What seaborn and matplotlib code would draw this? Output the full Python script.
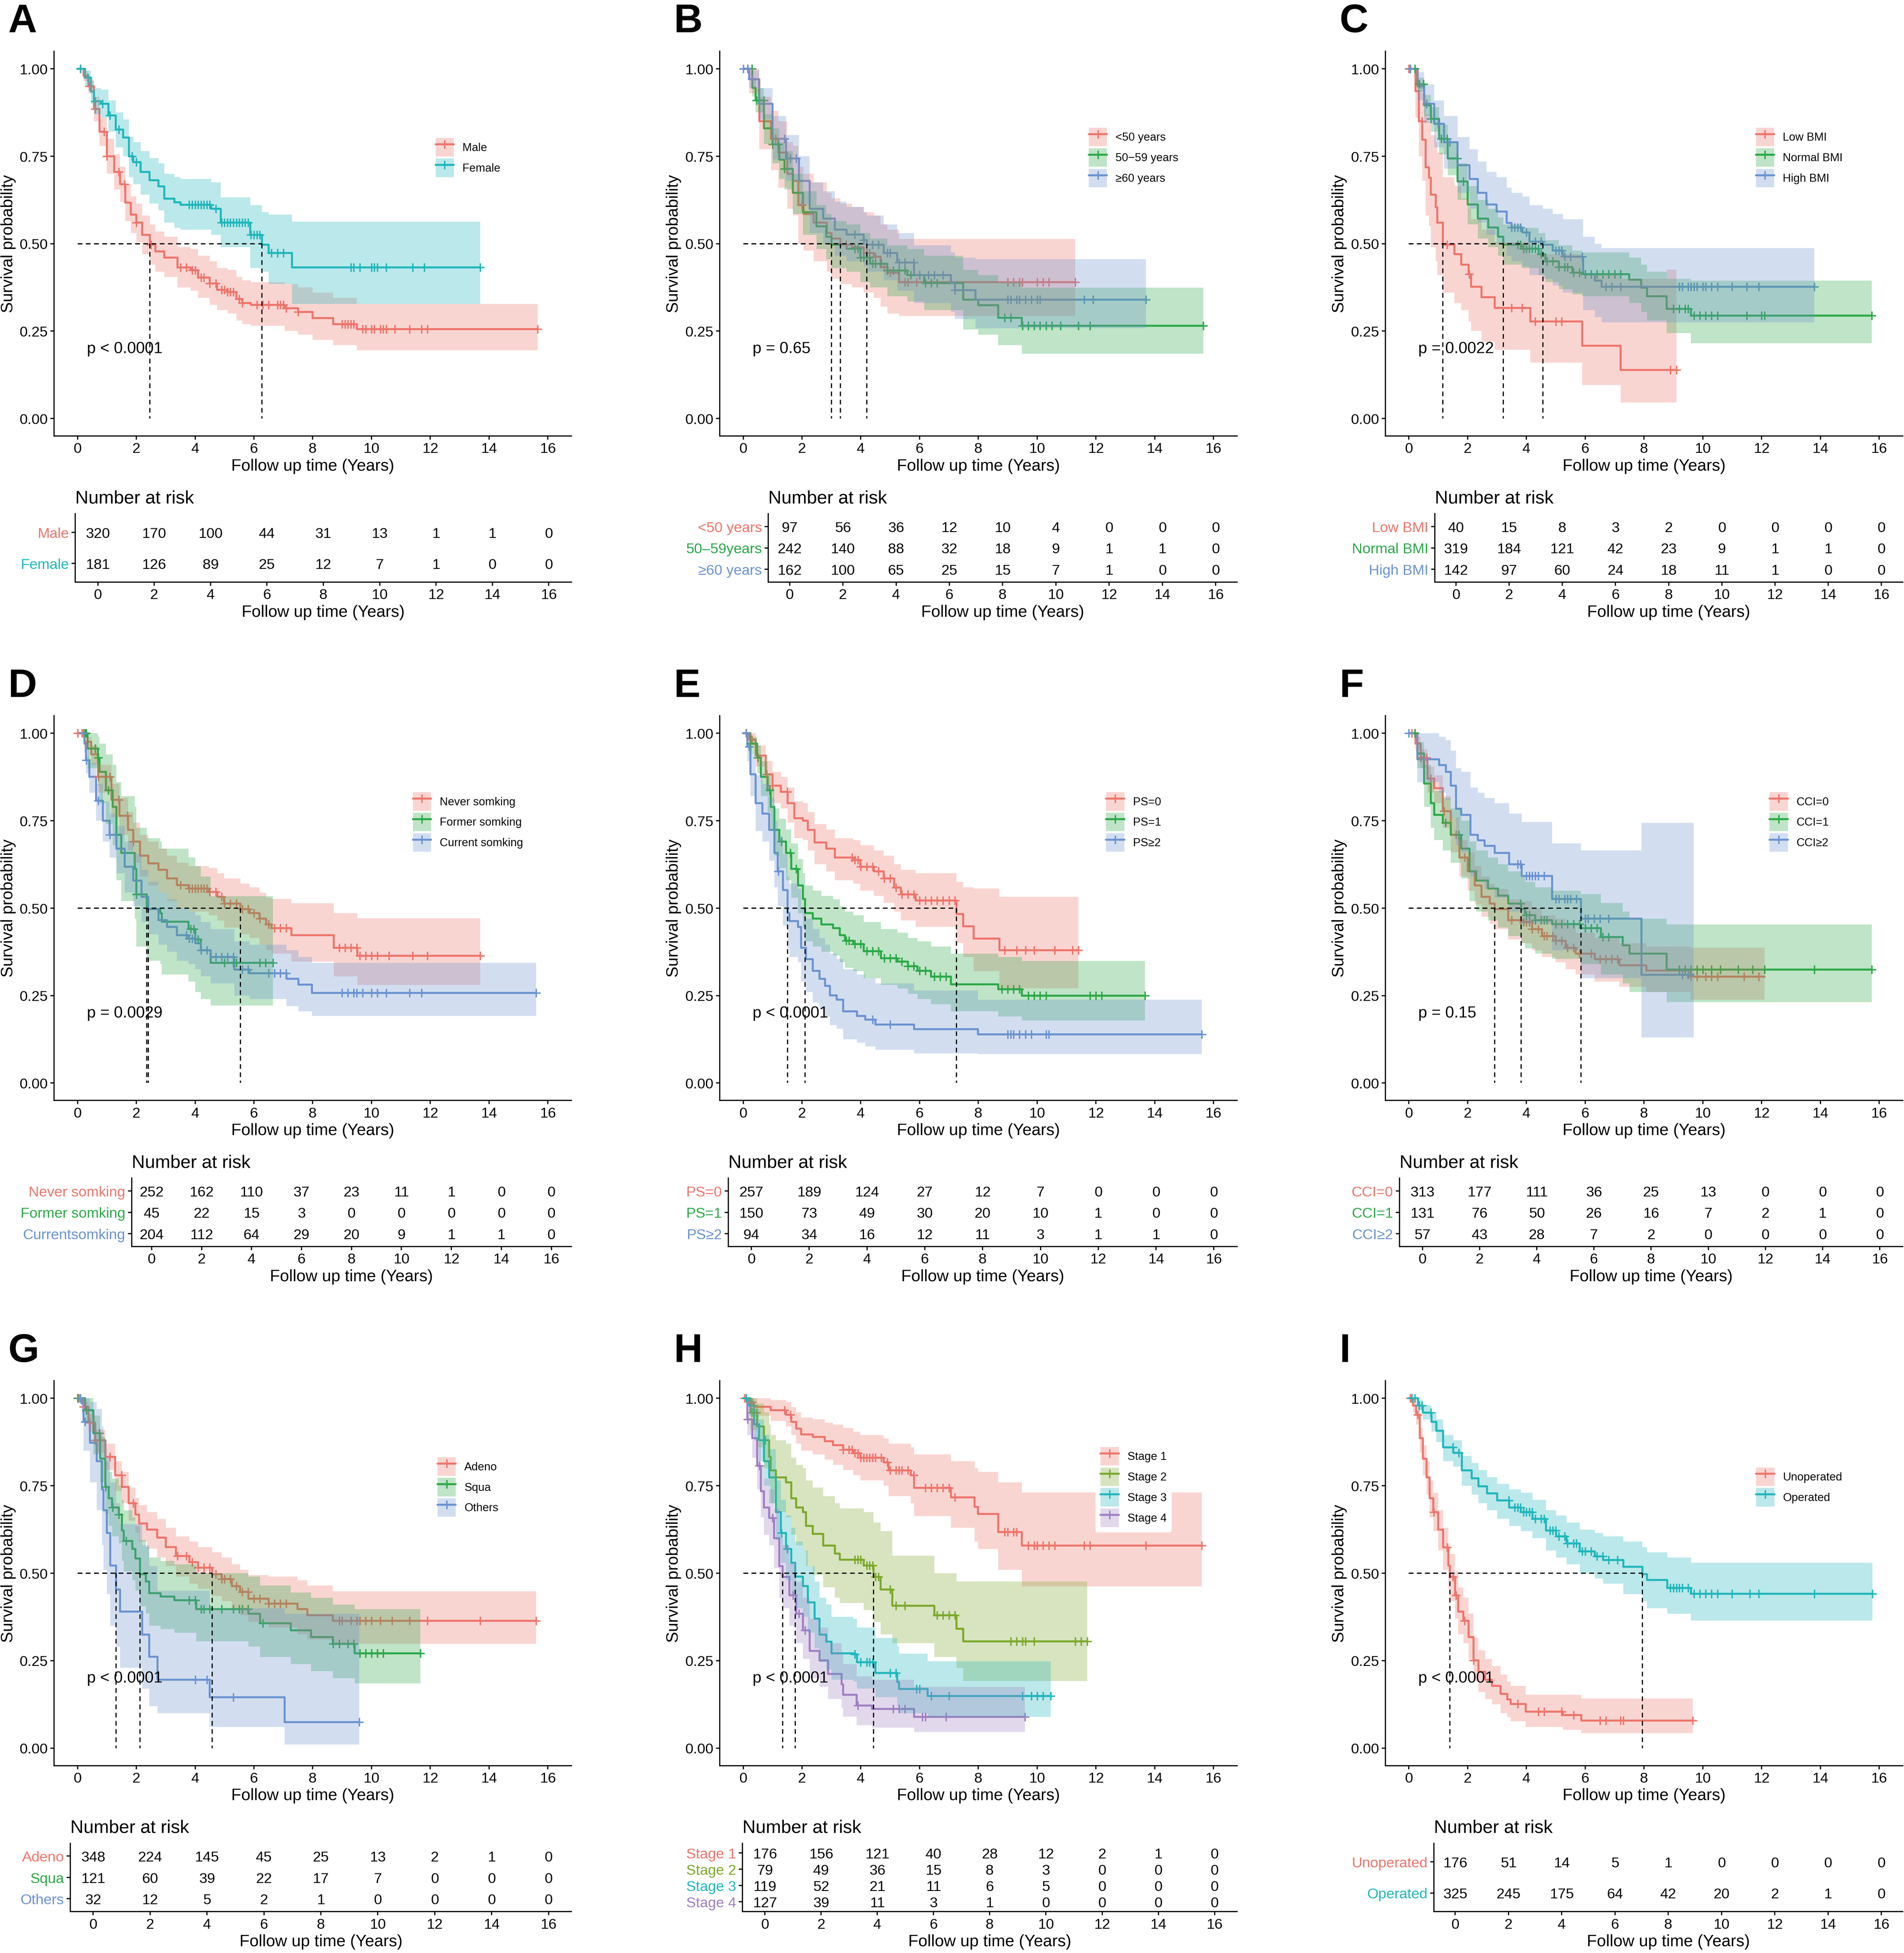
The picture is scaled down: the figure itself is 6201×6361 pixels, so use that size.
import numpy as np
import pandas as pd
import matplotlib
matplotlib.use("Agg")
import matplotlib.pyplot as plt
import seaborn as sns
from matplotlib.patches import Patch
from matplotlib.lines import Line2D
from matplotlib.legend_handler import HandlerTuple

# ---------------- colours ----------------
RED = "#EE746A"
TEAL = "#1FB6BB"
GREEN = "#2BA847"
BLUE = "#6A92D0"
OLIVE = "#7CA82B"
PURPLE = "#A07EC2"

TIMES = [0, 2, 4, 6, 8, 10, 12, 14, 16]

# ---------------- data: knots (time, surv, lower, upper) and censor times ----------------
# Panel A
A_male = [(0,1,1,1),(0.2,.98,.965,.995),(0.375,.95,.93,.97),(0.56,.885,.85,.92),(0.75,.82,.78,.86),
          (1.0,.75,.70,.80),(1.25,.705,.655,.755),(1.45,.67,.62,.72),(1.62,.617,.565,.67),(1.81,.583,.53,.635),
          (2.0,.56,.505,.615),(2.2,.525,.47,.58),(2.46,.497,.44,.555),(2.65,.478,.42,.535),(2.95,.46,.405,.52),
          (3.4,.432,.375,.49),(3.85,.424,.365,.485),(4.1,.403,.345,.465),(4.5,.386,.325,.45),(4.75,.368,.31,.43),
          (5.1,.362,.30,.425),(5.4,.342,.28,.405),(5.6,.33,.27,.395),(5.9,.325,.265,.39),(7.05,.315,.25,.385),
          (7.5,.305,.24,.375),(8.0,.287,.225,.36),(8.7,.27,.21,.345),(9.5,.256,.195,.328),(15.65,.256,.195,.328)]
A_male_c = [0.1,0.4,0.6,0.9,1.0,1.4,1.6,2.0,2.5,3.5,3.7,3.9,4.0,4.2,4.3,4.5,4.7,4.9,5.0,5.1,5.2,5.3,5.5,5.6,
            6.1,6.3,6.5,6.8,6.9,7.0,7.1,7.5,9.0,9.1,9.2,9.3,9.4,9.7,9.8,10.0,10.1,10.3,10.4,10.5,10.8,11.3,11.7,11.9,15.65]
A_female = [(0,1,1,1),(0.25,.975,.95,.995),(0.45,.935,.90,.965),(0.56,.907,.87,.945),(0.8,.90,.86,.94),
            (1.05,.867,.82,.91),(1.3,.826,.775,.875),(1.55,.803,.75,.855),(1.75,.75,.69,.805),(1.9,.733,.67,.79),
            (2.15,.705,.64,.765),(2.45,.681,.615,.745),(2.75,.664,.595,.73),(2.95,.629,.56,.70),(3.3,.618,.545,.69),
            (3.5,.611,.54,.685),(4.55,.60,.525,.675),(4.875,.56,.49,.632),(5.875,.525,.43,.61),(6.27,.497,.42,.59),
            (6.5,.473,.385,.583),(7.3,.432,.328,.563),(13.7,.432,.328,.563)]
A_female_c = [0.1,0.35,0.6,0.85,1.1,1.4,1.85,2.0,3.8,3.9,4.0,4.1,4.2,4.3,4.4,4.5,4.7,4.9,5.0,5.1,5.2,5.3,5.4,5.5,
              5.6,5.7,5.8,5.9,6.0,6.1,6.2,6.6,6.8,7.0,9.3,9.4,9.6,10.0,10.1,10.2,10.5,11.4,11.8,13.7]
A_risk = [[320,170,100,44,31,13,1,1,0],[181,126,89,25,12,7,1,0,0]]

# Panel B
B_lt50 = [(0,1,1,1),(0.2,.97,.93,1.0),(0.55,.85,.77,.92),(0.95,.80,.71,.88),(1.2,.76,.66,.85),(1.5,.70,.60,.79),
          (1.7,.68,.58,.78),(1.87,.61,.50,.72),(2.05,.585,.48,.70),(2.4,.56,.45,.675),(2.85,.53,.42,.645),
          (3.0,.515,.40,.63),(3.31,.497,.385,.615),(3.7,.49,.375,.605),(4.1,.473,.36,.59),(4.45,.463,.345,.58),
          (4.67,.433,.32,.555),(4.9,.417,.30,.54),(5.3,.39,.293,.514),(11.3,.39,.293,.514)]
B_lt50_c = [0.15,1.1,2.0,3.5,4.2,4.3,4.5,4.8,5.0,5.5,5.6,5.9,9.0,9.2,9.4,9.5,10.0,10.2,10.4,11.3]
B_5059 = [(0,1,1,1),(0.31,.946,.92,.97),(0.42,.91,.875,.945),(0.71,.83,.785,.87),(1.0,.784,.73,.83),
          (1.23,.74,.685,.79),(1.4,.714,.655,.765),(1.69,.645,.585,.70),(2.03,.59,.525,.65),(2.49,.55,.485,.61),
          (2.83,.52,.455,.585),(3.0,.497,.43,.565),(3.52,.486,.42,.555),(3.98,.46,.39,.53),(4.32,.443,.375,.515),
          (4.9,.423,.35,.495),(5.58,.41,.335,.485),(6.16,.387,.31,.465),(7.48,.34,.255,.425),(8.0,.324,.24,.41),
          (8.68,.288,.21,.39),(9.48,.265,.185,.374),(15.65,.265,.185,.374)]
B_5059_c = [0.3,0.45,0.7,1.0,1.2,1.4,3.8,3.9,4.0,4.1,4.2,4.3,4.4,4.5,4.7,4.9,5.1,5.3,5.5,5.7,6.0,6.2,6.4,6.6,
            8.9,9.1,9.5,9.7,9.9,10.1,10.3,10.5,10.8,11.4,11.8,15.65]
B_ge60 = [(0,1,1,1),(0.2,.97,.945,.995),(0.54,.90,.855,.945),(1.0,.80,.74,.865),(1.46,.744,.68,.81),
          (1.9,.68,.61,.75),(2.26,.60,.53,.675),(2.72,.572,.50,.65),(3.12,.54,.465,.62),(3.52,.526,.45,.605),
          (4.1,.51,.435,.59),(4.2,.497,.42,.58),(4.78,.473,.395,.555),(5.24,.446,.365,.53),(5.81,.41,.33,.495),
          (7.07,.387,.305,.475),(7.2,.367,.285,.46),(7.9,.34,.258,.456),(13.7,.34,.258,.456)]
B_ge60_c = [0.0,0.15,0.3,1.4,1.6,1.8,3.8,4.1,4.4,4.6,4.9,5.0,5.3,5.5,5.8,6.0,6.3,6.5,6.8,7.2,9.0,9.1,9.3,9.4,
            9.6,9.8,10.0,10.1,11.6,11.9,13.7]
B_risk = [[97,56,36,12,10,4,0,0,0],[242,140,88,32,18,9,1,1,0],[162,100,65,25,15,7,1,0,0]]

# Panel C
C_low = [(0,1,1,1),(0.23,.936,.86,1.0),(0.34,.85,.75,.96),(0.46,.797,.68,.93),(0.57,.718,.58,.87),
         (0.69,.688,.55,.85),(0.75,.64,.49,.81),(0.92,.604,.45,.79),(0.97,.56,.41,.76),(1.15,.497,.36,.69),
         (1.55,.47,.33,.665),(1.78,.44,.31,.63),(2.03,.413,.278,.60),(2.12,.377,.25,.57),(2.47,.347,.22,.54),
         (2.92,.316,.197,.505),(4.13,.278,.16,.47),(5.9,.208,.096,.41),(7.2,.139,.046,.40),(8.77,.139,.046,.426),
         (9.1,.139,.046,.426)]
C_low_c = [0.0,0.45,1.3,2.05,3.5,3.85,4.3,5.0,5.2,8.9,9.1]
C_normal = [(0,1,1,1),(0.29,.956,.935,.975),(0.52,.896,.865,.925),(0.75,.857,.82,.89),(1.03,.80,.755,.84),
            (1.32,.744,.695,.79),(1.66,.678,.625,.73),(2.0,.612,.555,.665),(2.35,.572,.515,.625),(2.7,.546,.49,.60),
            (3.04,.52,.465,.575),(3.21,.497,.44,.555),(3.84,.486,.43,.545),(4.41,.47,.41,.53),(4.64,.45,.39,.51),
            (5.1,.433,.37,.495),(5.56,.417,.355,.48),(5.9,.413,.35,.475),(7.5,.397,.33,.46),(7.9,.374,.305,.44),
            (8.1,.35,.28,.42),(8.77,.314,.244,.40),(9.6,.294,.215,.394),(15.75,.294,.215,.394)]
C_normal_c = [0.05,0.2,0.35,0.5,0.75,1.1,1.3,1.65,1.85,3.7,3.8,3.9,4.0,4.1,4.2,4.3,4.4,4.5,4.7,4.9,5.1,5.3,5.4,
              5.6,5.8,6.0,6.2,6.4,6.6,6.8,7.0,7.2,9.0,9.2,9.4,9.5,9.7,9.9,10.1,10.3,10.5,11.5,12.0,12.1,15.75]
C_high = [(0,1,1,1),(0.3,.95,.91,.99),(0.52,.90,.845,.955),(0.86,.843,.775,.91),(1.2,.79,.715,.865),
          (1.66,.724,.645,.805),(2.06,.685,.60,.77),(2.35,.645,.56,.735),(2.64,.612,.525,.705),(2.98,.592,.50,.69),
          (3.33,.559,.465,.66),(3.5,.546,.45,.645),(3.86,.532,.435,.635),(4.1,.506,.41,.61),(4.56,.497,.40,.60),
          (4.9,.48,.38,.585),(5.24,.463,.36,.57),(5.93,.413,.31,.52),(6.33,.394,.29,.50),(6.56,.377,.275,.487),
          (13.8,.377,.275,.487)]
C_high_c = [0.05,0.6,1.0,1.4,3.5,3.6,3.7,3.8,4.0,4.3,4.5,5.0,5.1,5.2,5.3,5.5,5.9,6.7,6.9,7.2,9.2,9.3,9.5,9.6,
            9.7,9.8,10.0,10.1,10.3,10.5,11.0,11.5,11.9,13.8]
C_risk = [[40,15,8,3,2,0,0,0,0],[319,184,121,42,23,9,1,1,0],[142,97,60,24,18,11,1,0,0]]

# Panel D
D_never = [(0,1,1,1),(0.23,.976,.955,.99),(0.46,.94,.91,.965),(0.69,.876,.83,.91),(1.15,.81,.76,.855),
           (1.43,.764,.71,.815),(1.72,.724,.665,.775),(1.89,.69,.63,.745),(2.12,.65,.59,.71),(2.41,.628,.565,.69),
           (2.75,.61,.545,.67),(3.04,.585,.52,.65),(3.38,.566,.50,.63),(3.78,.556,.49,.62),(4.47,.546,.48,.615),
           (4.76,.532,.465,.60),(4.99,.513,.445,.585),(5.54,.497,.425,.57),(5.85,.486,.415,.56),(6.19,.47,.395,.545),
           (6.42,.453,.38,.53),(6.6,.443,.37,.526),(7.28,.423,.347,.514),(8.72,.387,.305,.486),(9.52,.364,.28,.471),
           (13.7,.364,.28,.471)]
D_never_c = [0.0,0.15,0.7,1.1,1.4,1.7,1.9,3.5,3.8,3.9,4.0,4.1,4.2,4.3,4.4,4.5,4.7,4.9,5.0,5.2,5.4,5.6,5.8,6.0,
             6.2,6.5,6.7,6.9,7.1,8.9,9.1,9.3,9.5,9.6,9.8,10.0,10.2,10.6,11.4,11.9,13.7]
D_former = [(0,1,1,1),(0.34,.956,.90,1.0),(0.69,.93,.85,.99),(0.75,.89,.80,.97),(0.97,.837,.74,.94),
            (1.2,.79,.68,.91),(1.32,.71,.58,.86),(1.49,.658,.52,.82),(1.95,.612,.47,.79),(2.0,.539,.39,.73),
            (2.35,.497,.35,.70),(2.81,.486,.34,.69),(2.87,.461,.31,.67),(3.78,.44,.29,.645),(4.01,.41,.26,.62),
            (4.19,.38,.24,.59),(4.53,.344,.222,.534),(6.65,.344,.222,.534)]
D_former_c = [0.25,0.3,0.6,0.7,1.05,2.0,3.85,3.95,4.1,5.0,5.3,5.4,6.2,6.4,6.65]
D_current = [(0,1,1,1),(0.23,.97,.945,.99),(0.29,.923,.885,.955),(0.4,.876,.83,.915),(0.63,.807,.75,.855),
             (0.86,.75,.69,.805),(1.09,.71,.645,.77),(1.32,.67,.60,.735),(1.6,.618,.545,.69),(1.89,.579,.505,.655),
             (2.18,.532,.46,.61),(2.41,.497,.425,.575),(2.75,.466,.395,.545),(3.04,.446,.375,.525),(3.38,.423,.35,.50),
             (3.78,.413,.34,.49),(4.01,.40,.325,.48),(4.19,.38,.305,.46),(4.53,.36,.285,.44),(5.33,.324,.25,.405),
             (5.85,.314,.24,.395),(7.11,.298,.22,.38),(7.51,.281,.205,.36),(7.97,.258,.192,.344),(15.6,.258,.192,.344)]
D_current_c = [0.2,0.3,0.7,1.1,3.7,3.8,3.9,4.0,4.2,4.4,4.7,4.9,5.1,5.3,5.6,5.8,6.5,6.7,6.9,7.1,9.0,9.2,9.4,9.5,
               9.7,10.0,10.2,10.5,11.3,11.7,15.6]
D_risk = [[252,162,110,37,23,11,1,0,0],[45,22,15,3,0,0,0,0,0],[204,112,64,29,20,9,1,1,0]]

# Panel E
E_ps0 = [(0,1,1,1),(0.2,.982,.965,1.0),(0.42,.936,.905,.965),(0.77,.883,.84,.92),(1.0,.85,.80,.89),
         (1.28,.833,.785,.875),(1.51,.80,.745,.845),(1.74,.757,.70,.805),(2.03,.75,.695,.80),(2.2,.724,.665,.775),
         (2.43,.688,.625,.74),(2.83,.67,.605,.725),(3.12,.645,.58,.70),(3.75,.638,.57,.695),(3.98,.618,.55,.68),
         (4.44,.605,.535,.665),(4.78,.585,.515,.65),(5.13,.559,.49,.625),(5.36,.539,.465,.61),(5.87,.522,.446,.60),
         (7.25,.483,.40,.575),(7.48,.448,.36,.56),(7.84,.413,.32,.556),(8.72,.38,.271,.532),(11.4,.38,.271,.532)]
E_ps0_c = [0.1,0.3,0.8,1.0,1.5,3.7,3.8,3.9,4.0,4.2,4.4,4.6,4.8,5.0,5.2,5.4,5.6,5.8,6.0,6.2,6.4,6.6,6.8,7.0,7.2,
           8.9,9.3,9.6,9.9,10.6,11.2,11.4]
E_ps1 = [(0,1,1,1),(0.25,.97,.94,.99),(0.48,.93,.885,.965),(0.6,.876,.82,.92),(0.83,.837,.775,.885),
         (0.94,.79,.72,.845),(1.06,.724,.65,.785),(1.23,.69,.615,.755),(1.46,.658,.58,.725),(1.63,.612,.53,.685),
         (1.86,.565,.485,.64),(2.03,.526,.445,.60),(2.11,.486,.405,.565),(2.37,.47,.39,.55),(2.66,.453,.375,.535),
         (3.06,.443,.365,.525),(3.29,.423,.345,.505),(3.46,.407,.33,.49),(3.75,.397,.32,.48),(4.1,.377,.30,.46),
         (4.68,.357,.28,.44),(5.25,.347,.27,.43),(5.6,.334,.255,.415),(5.93,.321,.24,.405),(6.39,.304,.225,.39),
         (7.07,.282,.205,.37),(8.68,.268,.19,.36),(9.48,.25,.179,.349),(13.67,.25,.179,.349)]
E_ps1_c = [0.25,0.5,0.9,1.3,1.6,1.8,3.5,3.6,3.8,4.0,4.2,4.4,4.6,4.8,5.0,5.2,5.4,5.6,5.8,6.0,6.2,6.5,6.7,6.9,
           8.8,9.0,9.2,9.4,9.7,9.9,10.1,10.3,11.8,12.0,12.2,13.67]
E_ps2 = [(0,1,1,1),(0.14,.962,.92,1.0),(0.25,.883,.82,.94),(0.42,.80,.72,.88),(0.65,.77,.69,.855),
         (0.88,.724,.635,.815),(1.06,.658,.56,.75),(1.17,.605,.505,.705),(1.35,.552,.45,.655),(1.51,.486,.385,.59),
         (1.57,.463,.36,.57),(1.86,.446,.345,.555),(1.97,.387,.29,.50),(2.14,.354,.26,.47),(2.37,.321,.23,.44),
         (2.6,.298,.21,.415),(2.78,.278,.19,.395),(2.95,.251,.165,.37),(3.18,.238,.155,.355),(3.4,.205,.125,.325),
         (3.87,.192,.115,.31),(4.15,.181,.105,.30),(4.5,.167,.095,.285),(5.81,.154,.085,.265),(7.99,.139,.083,.238),
         (15.6,.139,.083,.238)]
E_ps2_c = [0.1,0.2,1.2,4.4,5.0,9.0,9.1,9.2,9.4,9.6,9.8,10.3,10.4,15.6]
E_risk = [[257,189,124,27,12,7,0,0,0],[150,73,49,30,20,10,1,0,0],[94,34,16,12,11,3,1,1,0]]

# Panel F
F_cci0 = [(0,1,1,1),(0.23,.97,.95,.99),(0.4,.93,.90,.955),(0.63,.87,.83,.905),(0.86,.843,.80,.88),
          (1.15,.777,.73,.82),(1.43,.71,.66,.76),(1.72,.645,.59,.695),(2.0,.605,.55,.66),(2.24,.565,.51,.62),
          (2.47,.532,.475,.59),(2.75,.513,.455,.57),(2.92,.497,.44,.555),(3.38,.466,.41,.525),(3.84,.46,.40,.52),
          (4.19,.44,.38,.50),(4.53,.42,.36,.48),(4.99,.407,.345,.47),(5.33,.387,.325,.45),(5.68,.37,.31,.43),
          (6.33,.354,.29,.415),(7.16,.337,.275,.40),(8.08,.322,.26,.39),(9.58,.304,.238,.387),(12.1,.304,.238,.387)]
F_cci0_c = [0.1,0.2,0.4,0.6,0.75,1.2,1.6,1.9,3.5,3.8,3.9,4.0,4.1,4.2,4.4,4.6,4.7,4.9,5.0,5.2,5.4,5.6,5.8,6.2,
            6.5,6.7,6.9,7.1,9.4,9.6,9.8,10.1,10.3,10.5,11.4,11.9]
F_cci1 = [(0,1,1,1),(0.29,.942,.90,.975),(0.52,.856,.79,.91),(0.75,.80,.73,.865),(0.86,.767,.695,.835),
          (1.15,.744,.665,.815),(1.43,.71,.63,.785),(1.78,.67,.585,.75),(2.06,.605,.52,.69),(2.29,.579,.49,.665),
          (2.69,.556,.465,.645),(3.04,.536,.445,.625),(3.38,.513,.42,.605),(3.82,.497,.40,.59),(3.95,.48,.385,.575),
          (4.3,.466,.37,.56),(4.87,.454,.355,.55),(5.85,.443,.34,.54),(6.54,.417,.31,.515),(7.28,.394,.285,.49),
          (7.51,.37,.26,.47),(8.77,.324,.231,.453),(15.75,.324,.231,.453)]
F_cci1_c = [0.2,1.25,1.7,3.8,4.0,4.1,4.3,4.5,4.6,4.7,5.0,5.2,5.4,5.6,5.8,6.0,6.2,6.4,6.6,6.8,9.2,9.4,9.6,9.8,
            10.0,10.3,10.6,11.2,11.7,12.1,13.8,15.75]
F_cci2 = [(0,1,1,1),(0.29,.926,.86,1.0),(1.03,.909,.83,.99),(1.26,.89,.81,.98),(1.43,.85,.76,.95),
          (1.6,.784,.68,.90),(1.78,.767,.66,.89),(2.1,.71,.59,.845),(2.35,.694,.575,.83),(2.58,.678,.555,.815),
          (2.92,.658,.53,.80),(3.41,.625,.49,.77),(3.84,.592,.455,.747),(4.87,.526,.38,.685),(5.86,.47,.30,.665),
          (7.91,.309,.13,.744),(9.69,.309,.13,.744)]
F_cci2_c = [0.0,3.7,3.8,4.0,4.1,4.2,4.3,4.4,4.6,5.0,5.1,5.3,5.4,5.5,5.7,6.0,6.1,6.3,6.5,6.8,9.3,9.5]
F_risk = [[313,177,111,36,25,13,0,0,0],[131,76,50,26,16,7,2,1,0],[57,43,28,7,2,0,0,0,0]]

# Panel G
G_adeno = [(0,1,1,1),(0.2,.976,.96,.99),(0.37,.93,.905,.955),(0.6,.88,.845,.91),(0.94,.833,.795,.87),
           (1.28,.78,.735,.82),(1.51,.747,.70,.79),(1.74,.70,.65,.745),(1.97,.668,.615,.715),(2.09,.642,.59,.695),
           (2.37,.625,.57,.675),(2.71,.602,.545,.655),(3.0,.575,.52,.63),(3.35,.549,.49,.605),(3.81,.532,.47,.59),
           (4.1,.516,.455,.575),(4.58,.497,.435,.56),(4.9,.483,.42,.545),(5.25,.463,.40,.525),(5.53,.446,.38,.51),
           (5.81,.427,.36,.495),(6.5,.413,.345,.49),(7.48,.397,.325,.48),(7.82,.38,.31,.465),(8.68,.364,.298,.448),
           (15.6,.364,.298,.448)]
G_adeno_c = [0.05,0.2,0.4,0.6,1.1,1.5,1.9,3.4,3.7,3.9,4.1,4.3,4.5,4.7,4.9,5.0,5.2,5.4,5.6,5.8,6.0,6.2,6.5,6.7,
             6.9,7.1,8.9,9.0,9.3,9.5,9.6,9.8,10.0,10.3,10.7,11.3,11.9,13.7,15.6]
G_squa = [(0,1,1,1),(0.25,.966,.93,1.0),(0.54,.90,.84,.95),(0.77,.827,.76,.89),(0.94,.747,.67,.82),
          (1.06,.714,.635,.79),(1.17,.688,.605,.77),(1.4,.668,.585,.75),(1.51,.622,.535,.71),(1.57,.592,.505,.68),
          (1.86,.569,.48,.66),(1.97,.542,.45,.635),(2.12,.497,.405,.595),(2.32,.476,.385,.575),(2.44,.443,.35,.545),
          (2.83,.433,.34,.535),(3.29,.423,.33,.525),(4.04,.397,.305,.50),(5.81,.384,.29,.49),(6.21,.357,.26,.465),
          (7.25,.337,.24,.445),(7.94,.317,.22,.43),(8.68,.298,.20,.41),(9.43,.271,.185,.397),(11.66,.271,.185,.397)]
G_squa_c = [0.0,0.3,0.75,0.95,1.2,1.4,1.65,3.8,4.0,4.2,4.3,4.5,4.9,5.3,5.5,5.6,5.8,6.3,8.7,8.9,9.2,9.4,9.6,
            9.8,10.0,10.2,10.4,11.66]
G_others = [(0,1,1,1),(0.14,.985,.955,1.0),(0.2,.933,.85,1.0),(0.42,.873,.76,.99),(0.65,.82,.68,.97),
            (0.83,.74,.58,.92),(0.88,.68,.51,.88),(1.0,.615,.44,.83),(1.11,.522,.35,.76),(1.31,.453,.29,.70),
            (1.45,.39,.23,.64),(2.2,.324,.17,.58),(2.44,.261,.12,.52),(2.72,.195,.10,.45),(4.5,.145,.06,.40),
            (7.05,.074,.01,.384),(9.58,.074,.01,.384)]
G_others_c = [0.1,0.25,4.0,4.4,5.3,9.58]
G_risk = [[348,224,145,45,25,13,2,1,0],[121,60,39,22,17,7,0,0,0],[32,12,5,2,1,0,0,0,0]]

# Panel H
H_s1 = [(0,1,1,1),(0.2,.989,.97,1.0),(0.37,.976,.95,1.0),(0.94,.966,.935,.995),(1.46,.953,.92,.99),
        (1.63,.933,.895,.975),(1.8,.913,.87,.96),(1.97,.897,.85,.945),(2.37,.89,.84,.94),(2.77,.877,.825,.93),
        (3.06,.866,.81,.925),(3.4,.853,.795,.915),(3.75,.843,.78,.905),(3.98,.83,.765,.895),(4.78,.817,.75,.885),
        (4.95,.794,.72,.87),(5.7,.78,.70,.86),(5.81,.744,.663,.84),(7.07,.717,.63,.82),(7.87,.69,.59,.80),
        (7.99,.669,.569,.79),(8.68,.618,.51,.76),(9.48,.579,.462,.731),(15.6,.579,.462,.731)]
H_s1_c = [0.05,0.3,1.4,1.6,3.4,3.6,3.7,3.8,3.9,4.0,4.1,4.2,4.3,4.4,4.5,4.7,4.9,5.0,5.2,5.3,5.4,5.6,5.8,6.2,
          6.4,6.6,6.8,7.0,7.2,8.9,9.0,9.2,9.3,9.7,9.9,10.0,10.2,10.4,10.6,11.6,11.8,13.7,15.6]
H_s2 = [(0,1,1,1),(0.25,.959,.91,1.0),(0.48,.92,.86,.985),(0.71,.88,.80,.96),(0.88,.833,.75,.925),
        (0.94,.794,.70,.895),(1.11,.774,.675,.88),(1.46,.76,.66,.87),(1.63,.714,.61,.83),(1.8,.688,.58,.81),
        (2.03,.675,.565,.80),(2.14,.635,.52,.765),(2.37,.612,.495,.745),(2.72,.579,.46,.72),(3.12,.556,.43,.70),
        (3.29,.539,.415,.685),(4.1,.522,.395,.675),(4.43,.489,.36,.645),(4.67,.453,.325,.62),(5.07,.407,.30,.55),
        (6.5,.38,.26,.50),(7.25,.341,.23,.476),(7.48,.305,.192,.476),(11.7,.305,.192,.476)]
H_s2_c = [0.3,0.45,0.75,3.8,3.9,4.0,4.2,4.3,4.4,4.5,4.6,5.0,5.2,5.5,6.6,6.8,7.0,7.2,9.1,9.3,9.5,9.6,9.9,11.3,
          11.5,11.7]
H_s3 = [(0,1,1,1),(0.2,.979,.95,1.0),(0.37,.926,.88,.97),(0.54,.88,.82,.94),(0.71,.82,.75,.895),
        (0.88,.774,.70,.855),(1.11,.675,.595,.765),(1.28,.615,.53,.71),(1.46,.569,.48,.665),(1.63,.53,.44,.63),
        (1.77,.49,.40,.59),(2.03,.463,.375,.565),(2.2,.417,.33,.52),(2.43,.37,.285,.475),(2.6,.324,.245,.43),
        (2.83,.304,.225,.41),(3.0,.271,.195,.375),(3.75,.268,.19,.37),(3.87,.245,.17,.345),(4.5,.215,.145,.315),
        (5.24,.189,.12,.29),(5.3,.169,.10,.27),(6.27,.149,.089,.248),(10.46,.149,.089,.248)]
H_s3_c = [0.1,0.35,0.7,1.3,1.5,3.8,4.0,4.2,4.3,4.4,5.0,5.2,5.9,6.0,6.4,7.0,9.5,9.8,10.0,10.2,10.46]
H_s4 = [(0,1,1,1),(0.14,.94,.895,.98),(0.31,.886,.83,.94),(0.48,.807,.74,.875),(0.6,.734,.66,.81),
        (0.71,.688,.61,.77),(0.88,.658,.58,.74),(1.05,.60,.515,.685),(1.23,.52,.43,.61),(1.34,.489,.40,.58),
        (1.57,.437,.35,.53),(1.8,.384,.30,.475),(2.03,.337,.255,.43),(2.26,.278,.20,.37),(2.6,.251,.175,.345),
        (2.89,.212,.14,.30),(3.35,.182,.115,.27),(3.4,.152,.09,.24),(3.86,.122,.065,.205),(4.38,.112,.058,.195),
        (5.81,.089,.046,.175),(9.58,.089,.046,.175)]
H_s4_c = [0.15,0.55,1.0,1.7,1.9,2.1,3.9,5.1,5.3,5.5,6.1,6.2,6.9,9.58]
H_risk = [[176,156,121,40,28,12,2,1,0],[79,49,36,15,8,3,0,0,0],[119,52,21,11,6,5,0,0,0],[127,39,11,3,1,0,0,0,0]]

# Panel I
I_unop = [(0,1,1,1),(0.14,.979,.96,1.0),(0.25,.953,.925,.975),(0.37,.886,.845,.915),(0.48,.827,.78,.865),
          (0.6,.774,.725,.82),(0.71,.714,.66,.765),(0.83,.675,.62,.73),(1.0,.625,.565,.68),(1.17,.574,.51,.63),
          (1.34,.522,.455,.585),(1.4,.489,.42,.555),(1.57,.437,.37,.505),(1.68,.39,.325,.46),(1.86,.364,.30,.43),
          (2.03,.317,.255,.385),(2.2,.251,.19,.315),(2.37,.218,.16,.28),(2.6,.195,.14,.255),(2.83,.178,.125,.235),
          (3.12,.155,.10,.21),(3.35,.139,.088,.19),(3.46,.126,.077,.178),(3.98,.104,.06,.152),(5.24,.094,.052,.152),
          (5.87,.079,.043,.142),(9.66,.079,.043,.142)]
I_unop_c = [0.05,0.3,0.85,1.3,1.5,1.6,1.9,2.2,3.7,4.4,4.6,5.2,5.6,6.5,6.7,7.2,7.3,9.66]
I_op = [(0,1,1,1),(0.31,.979,.965,.995),(0.48,.959,.94,.98),(0.77,.933,.905,.96),(0.94,.907,.875,.94),
        (1.17,.86,.82,.895),(1.51,.844,.805,.88),(1.8,.794,.75,.835),(2.14,.771,.725,.815),(2.37,.748,.70,.795),
        (2.66,.728,.68,.775),(3.0,.708,.655,.755),(3.41,.688,.635,.74),(3.81,.675,.62,.73),(4.21,.655,.60,.71),
        (4.67,.622,.565,.68),(5.01,.605,.545,.665),(5.36,.585,.525,.645),(5.81,.562,.50,.625),(6.33,.548,.485,.615),
        (6.61,.538,.47,.605),(7.3,.518,.44,.59),(7.94,.497,.42,.575),(8.1,.481,.40,.56),(8.79,.458,.384,.545),
        (9.6,.441,.365,.53),(15.77,.441,.365,.53)]
I_op_c = [0.1,0.2,0.35,0.45,0.75,1.5,1.7,3.4,3.6,3.7,3.8,3.9,4.0,4.1,4.2,4.3,4.5,4.6,4.8,4.9,5.0,5.1,5.3,5.4,
          5.6,5.7,5.9,6.0,6.2,6.4,6.6,6.8,7.1,8.9,9.0,9.1,9.2,9.3,9.5,9.7,9.9,10.1,10.3,10.5,11.0,11.6,11.9,13.8,15.77]
I_risk = [[176,51,14,5,1,0,0,0,0],[325,245,175,64,42,20,2,1,0]]

# ---------------- panel definitions ----------------
PANELS = [
    dict(letter="A", col=0, row=0, curves=[(A_male, A_male_c), (A_female, A_female_c)], colors=[RED, TEAL],
         legend=["Male", "Female"], table=["Male", "Female"], risk=A_risk, p="p < 0.0001"),
    dict(letter="B", col=1, row=0, curves=[(B_lt50, B_lt50_c), (B_5059, B_5059_c), (B_ge60, B_ge60_c)],
         colors=[RED, GREEN, BLUE], legend=["<50 years", "50\u221259 years", "\u226560 years"],
         table=["<50 years", "50\u201359years", "\u226560 years"], risk=B_risk, p="p = 0.65"),
    dict(letter="C", col=2, row=0, curves=[(C_low, C_low_c), (C_normal, C_normal_c), (C_high, C_high_c)],
         colors=[RED, GREEN, BLUE], legend=["Low BMI", "Normal BMI", "High BMI"],
         table=["Low BMI", "Normal BMI", "High BMI"], risk=C_risk, p="p = 0.0022"),
    dict(letter="D", col=0, row=1, curves=[(D_never, D_never_c), (D_former, D_former_c), (D_current, D_current_c)],
         colors=[RED, GREEN, BLUE], legend=["Never somking", "Former somking", "Current somking"],
         table=["Never somking", "Former somking", "Currentsomking"], risk=D_risk, p="p = 0.0029"),
    dict(letter="E", col=1, row=1, curves=[(E_ps0, E_ps0_c), (E_ps1, E_ps1_c), (E_ps2, E_ps2_c)],
         colors=[RED, GREEN, BLUE], legend=["PS=0", "PS=1", "PS\u22652"],
         table=["PS=0", "PS=1", "PS\u22652"], risk=E_risk, p="p < 0.0001"),
    dict(letter="F", col=2, row=1, curves=[(F_cci0, F_cci0_c), (F_cci1, F_cci1_c), (F_cci2, F_cci2_c)],
         colors=[RED, GREEN, BLUE], legend=["CCI=0", "CCI=1", "CCI\u22652"],
         table=["CCI=0", "CCI=1", "CCI\u22652"], risk=F_risk, p="p = 0.15"),
    dict(letter="G", col=0, row=2, curves=[(G_adeno, G_adeno_c), (G_squa, G_squa_c), (G_others, G_others_c)],
         colors=[RED, GREEN, BLUE], legend=["Adeno", "Squa", "Others"],
         table=["Adeno", "Squa", "Others"], risk=G_risk, p="p < 0.0001"),
    dict(letter="H", col=1, row=2, curves=[(H_s1, H_s1_c), (H_s2, H_s2_c), (H_s3, H_s3_c), (H_s4, H_s4_c)],
         colors=[RED, OLIVE, TEAL, PURPLE], legend=["Stage 1", "Stage 2", "Stage 3", "Stage 4"],
         table=["Stage 1", "Stage 2", "Stage 3", "Stage 4"], risk=H_risk, p="p < 0.0001"),
    dict(letter="I", col=2, row=2, curves=[(I_unop, I_unop_c), (I_op, I_op_c)], colors=[RED, TEAL],
         legend=["Unoperated", "Operated"], table=["Unoperated", "Operated"], risk=I_risk, p="p < 0.0001"),
]

# ---------------- style ----------------
sns.set_theme(style="ticks")
plt.rcParams["font.family"] = ["Liberation Sans", "DejaVu Sans"]
plt.rcParams["axes.linewidth"] = 0.5
plt.rcParams["axes.edgecolor"] = "black"
plt.rcParams["xtick.color"] = "black"
plt.rcParams["ytick.color"] = "black"
plt.rcParams["text.color"] = "black"
plt.rcParams["axes.labelcolor"] = "black"

W, H, DPI = 6765, 6940, 600
SAVE_DPI = 550   # keeps the PNG under the 40-megapixel reader limit
fig = plt.figure(figsize=(W / DPI, H / DPI), dpi=DPI)
fig.patch.set_facecolor("white")
renderer = fig.canvas.get_renderer()

COL_X = [0, 2365, 4730]
ROW_Y = [0, 2361, 4724]
LW = 0.85
MS = 3.6
MEW = 0.6
TICK_FS = 6.2
LAB_FS = 7.0
LEG_FS = 4.85


def frac(left, top, width, height):
    return [left / W, 1 - (top + height) / H, width / W, height / H]


def step_at(t, s, x):
    idx = np.searchsorted(t, np.asarray(x), side="right") - 1
    idx = np.clip(idx, 0, len(s) - 1)
    return s[idx]


def text_width(label, fs):
    t = fig.text(0, 0, label, fontsize=fs)
    w = t.get_window_extent(renderer).width
    t.remove()
    return w


def style_ticks(ax):
    ax.tick_params(axis="both", length=1.6, width=0.5, pad=1.1, labelsize=TICK_FS,
                   color="black", labelcolor="black")


for P in PANELS:
    cx, ry = COL_X[P["col"]], ROW_Y[P["row"]]
    colors = P["colors"]
    labels = P["legend"]

    # ---------- survival plot ----------
    ax = fig.add_axes(frac(cx + 192, ry + 183, 1838, 1367))
    frames = []
    for (knots, cens), lab in zip(P["curves"], labels):
        k = np.array(knots, dtype=float)
        frames.append(pd.DataFrame({"t": k[:, 0], "s": k[:, 1], "g": lab}))
    df = pd.concat(frames, ignore_index=True)
    sns.lineplot(data=df, x="t", y="s", hue="g", hue_order=labels, palette=colors,
                 estimator=None, sort=False, drawstyle="steps-post", linewidth=LW,
                 legend=False, ax=ax, zorder=2)

    medians = []
    for (knots, cens), c in zip(P["curves"], colors):
        k = np.array(knots, dtype=float)
        t, s, lo, hi = k[:, 0], k[:, 1], k[:, 2], k[:, 3]
        cy = step_at(t, s, cens)
        ax.plot(cens, cy, ls="none", marker="+", ms=MS, mew=MEW, color=c, zorder=2)
        ax.fill_between(t, lo, hi, step="post", color=c, alpha=0.3, lw=0, zorder=3)
        below = np.where(s <= 0.5)[0]
        if len(below):
            medians.append(t[below[0]])

    for m in medians:
        ax.plot([0, m], [0.5, 0.5], color="black", lw=0.5, ls=(0, (4, 3)), zorder=4)
        ax.plot([m, m], [0.5, 0.0], color="black", lw=0.5, ls=(0, (4, 3)), zorder=4)

    ax.text(0.32, 0.2, P["p"], fontsize=6.8, ha="left", va="center", zorder=6)

    ax.set_xlim(-0.8, 16.8)
    ax.set_ylim(-0.05, 1.05)
    ax.set_xticks(TIMES)
    ax.set_yticks([0, 0.25, 0.5, 0.75, 1.0])
    ax.set_yticklabels(["0.00", "0.25", "0.50", "0.75", "1.00"])
    style_ticks(ax)
    sns.despine(ax=ax)
    ax.set_xlabel("Follow up time (Years)", fontsize=LAB_FS, va="center")
    ax.xaxis.set_label_coords(0.5, -0.078)
    ax.set_ylabel("Survival probability", fontsize=LAB_FS, va="center")
    ax.yaxis.set_label_coords(-0.0887, 0.5)

    handles = [(Patch(facecolor=c, alpha=0.3, edgecolor="none"),
                Line2D([], [], color=c, lw=LW, marker="+", ms=MS, mew=MEW)) for c in colors]
    leg = ax.legend(handles, labels, loc="center", bbox_to_anchor=(0.80, 0.724), frameon=True,
                    facecolor="white", edgecolor="none", framealpha=1, fontsize=LEG_FS,
                    handlelength=1.61, handleheight=2.14, labelspacing=0.17, handletextpad=0.74,
                    borderpad=0.45, borderaxespad=0, handler_map={tuple: HandlerTuple(ndivide=1)})
    leg.set_zorder(7)

    # ---------- risk table ----------
    n = len(P["table"])
    lab_w = max(text_width(l, TICK_FS) for l in P["table"])
    left = cx + 72 + lab_w + 23
    axt = fig.add_axes(frac(left, ry + 1826, cx + 2030 - left, 243))
    axt.set_xlim(-0.8, 16.8)
    axt.set_ylim(0.4, n + 0.6)
    for i, vals in enumerate(P["risk"]):
        for tt, v in zip(TIMES, vals):
            axt.text(tt, n - i, str(v), ha="center", va="center_baseline", fontsize=TICK_FS)
    axt.set_xticks(TIMES)
    axt.set_yticks([n - i for i in range(n)])
    axt.set_yticklabels(P["table"])
    style_ticks(axt)
    for lbl, c in zip(axt.get_yticklabels(), colors):
        lbl.set_color(c)
    sns.despine(ax=axt)
    axt.set_xlabel("Follow up time (Years)", fontsize=LAB_FS, va="center")
    axt.xaxis.set_label_coords(0.5, -0.44)
    axt.set_ylabel("")
    axt.set_title("Number at risk", loc="left", fontsize=7.8, pad=4.5)

    # ---------- panel letter ----------
    fig.text((cx + 29) / W, 1 - (ry + 115) / H, P["letter"], fontsize=17, fontweight="bold",
             ha="left", va="baseline")

fig.savefig("out.png", dpi=SAVE_DPI, facecolor="white")
